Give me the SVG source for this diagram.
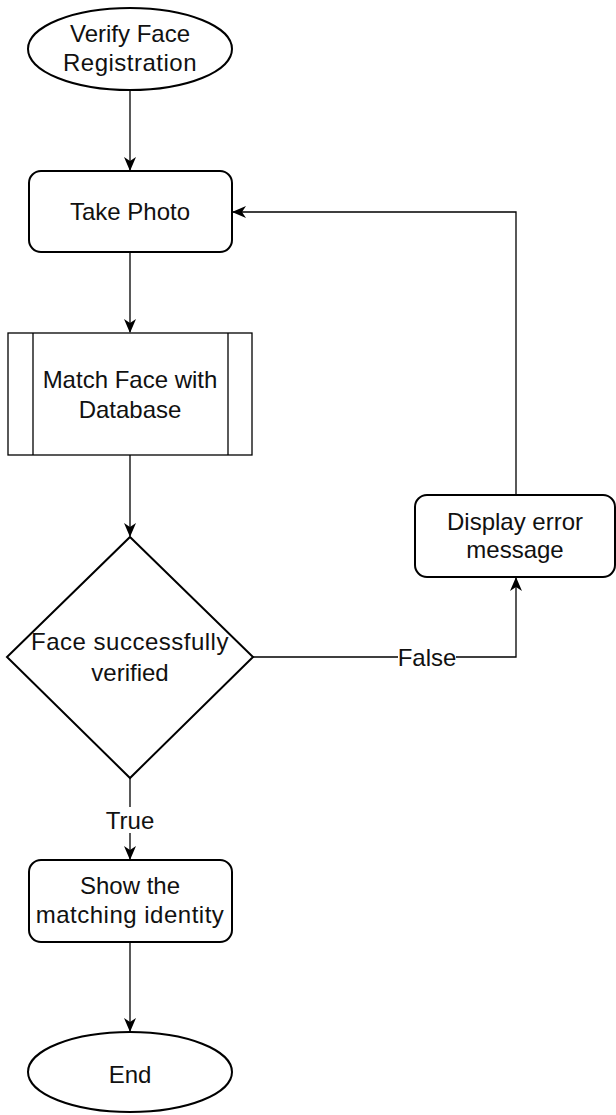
<svg xmlns="http://www.w3.org/2000/svg" width="616" height="1115" viewBox="0 0 616 1115">
  <style>
    .shape { fill: #ffffff; stroke: #000000; stroke-width: 2; }
    .thin { fill: #ffffff; stroke: #000000; stroke-width: 1.3; }
    .edge { fill: none; stroke: #000000; stroke-width: 1.3; }
    text { font-family: "Liberation Sans", Arial, sans-serif; font-size: 24px; fill: #111111; text-anchor: middle; }
    .wide { letter-spacing: 0.5px; }
    .lbl-bg { fill: #ffffff; }
  </style>
  <defs>
    <marker id="arrow" viewBox="0 0 14 12" refX="13" refY="6" markerWidth="14" markerHeight="12" markerUnits="userSpaceOnUse" orient="auto">
      <path d="M0,0 L14,6 L0,12 L4,6 Z" fill="#000000"/>
    </marker>
  </defs>
  <rect width="616" height="1115" fill="#ffffff"/>

  <!-- connectors -->
  <g id="connectors">
    <path class="edge" d="M130,90 L130,170" marker-end="url(#arrow)"/>
    <path class="edge" d="M130,252 L130,332" marker-end="url(#arrow)"/>
    <path class="edge" d="M130,455 L130,536" marker-end="url(#arrow)"/>
    <path class="edge" d="M130,778 L130,859" marker-end="url(#arrow)"/>
    <path class="edge" d="M130,942 L130,1031" marker-end="url(#arrow)"/>
    <path class="edge" d="M252,657 L516,657 L516,578" marker-end="url(#arrow)"/>
    <path class="edge" d="M516,495 L516,212 L233,212" marker-end="url(#arrow)"/>
    <rect class="lbl-bg" x="398" y="644" width="58" height="26"/>
    <text x="427" y="666">False</text>
    <rect class="lbl-bg" x="102" y="807" width="56" height="26"/>
    <text x="130" y="829">True</text>
  </g>

  <g id="start">
    <ellipse class="shape" cx="130" cy="49" rx="102" ry="41"/>
    <text x="130" y="42">Verify Face</text>
    <text class="wide" x="130" y="71">Registration</text>
  </g>

  <g id="take-photo">
    <rect class="shape" x="29" y="171" width="203" height="81" rx="12" ry="12"/>
    <text x="130" y="220">Take Photo</text>
  </g>

  <g id="match-face">
    <rect class="thin" x="8" y="333" width="244" height="122"/>
    <line class="thin" x1="33" y1="333" x2="33" y2="455"/>
    <line class="thin" x1="228" y1="333" x2="228" y2="455"/>
    <text x="130" y="388">Match Face with</text>
    <text x="130" y="418">Database</text>
  </g>

  <g id="verified-decision">
    <polygon class="shape" points="130,537 253,657 130,778 7,657"/>
    <text class="wide" x="130" y="650">Face successfully</text>
    <text x="130" y="681">verified</text>
  </g>

  <g id="display-error">
    <rect class="shape" x="415" y="495" width="200" height="82" rx="12" ry="12"/>
    <text x="515" y="530">Display error</text>
    <text x="515" y="558">message</text>
  </g>

  <g id="show-identity">
    <rect class="shape" x="29" y="860" width="203" height="82" rx="12" ry="12"/>
    <text x="130" y="894">Show the</text>
    <text class="wide" x="130" y="923">matching identity</text>
  </g>

  <g id="end">
    <ellipse class="shape" cx="130" cy="1072" rx="102" ry="40"/>
    <text x="130" y="1083">End</text>
  </g>
</svg>
